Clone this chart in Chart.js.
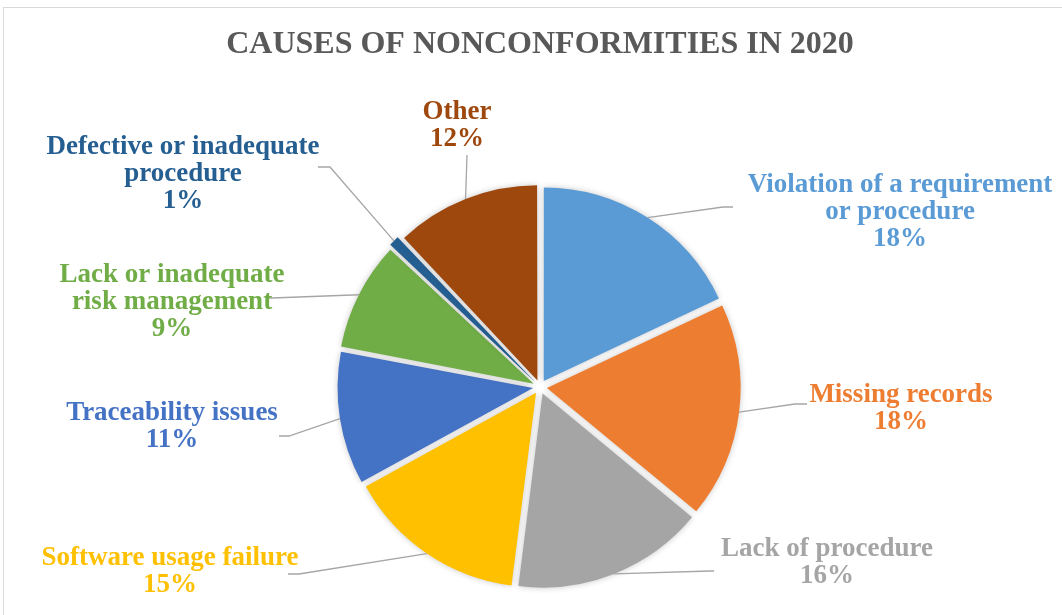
<!DOCTYPE html>
<html>
<head>
<meta charset="utf-8">
<script src="https://cdn.jsdelivr.net/npm/chart.js@4/dist/chart.umd.min.js"></script>
<style>
  html, body { margin: 0; padding: 0; background: #ffffff; }
  #wrap { width: 1062px; height: 615px; position: relative; }
</style>
</head>
<body>
<div id="wrap"><canvas id="pie" width="1062" height="615"></canvas></div>
<script>
// Causes of nonconformities recorded in 2020 (share of total, %)
const categories = [
  ['Violation of a requirement', 'or procedure'],
  ['Missing records'],
  ['Lack of procedure'],
  ['Software usage failure'],
  ['Traceability issues'],
  ['Lack or inadequate', 'risk management'],
  ['Defective or inadequate', 'procedure'],
  ['Other']
];
const shares = [18, 18, 16, 15, 11, 9, 1, 12];
const sliceColors = ['#5B9BD5', '#ED7D31', '#A5A5A5', '#FFC000', '#4472C4', '#70AD47', '#255E91', '#9E480E'];
const chartTitle = 'CAUSES OF NONCONFORMITIES IN 2020';

// Label block centres and leader-line bends, relative to the pie centre
const labelCentres = [[360, -175], [361, 22], [287, 176], [-370, 185], [-368, 40], [-368, -85], [-357, -213], [-83, -261]];
const leaderBends = [
  [[183, -180], [193, -180]],
  [[255, 17], [267, 17]],
  [[170, 184], [174, 184]],
  [[-241, 187], [-252, 187]],
  [[-251, 49], [-261, 49]],
  [[-268, -89], [-273, -89]],
  [[-210, -220], [-222, -220]],
  [[-73, -232], [-73, -232]]
];

const serif = "'Liberation Serif', 'Times New Roman', serif";

const framePlugin = {
  id: 'frame',
  beforeDraw(chart) {
    const ctx = chart.ctx;
    ctx.save();
    ctx.fillStyle = '#ffffff';
    ctx.fillRect(0, 0, chart.width, chart.height);
    ctx.strokeStyle = '#d9d9d9';
    ctx.lineWidth = 1;
    ctx.strokeRect(3.5, 7.5, chart.width + 10, chart.height + 10);
    ctx.restore();
  }
};

const shadowPlugin = {
  id: 'sliceShadow',
  beforeDatasetDraw(chart) {
    const ctx = chart.ctx;
    ctx.save();
    ctx.shadowColor = 'rgba(0,0,0,0.22)';
    ctx.shadowBlur = 6;
    ctx.shadowOffsetX = 0;
    ctx.shadowOffsetY = 0;
  },
  afterDatasetDraw(chart) {
    chart.ctx.restore();
  }
};

const outsideLabels = {
  id: 'outsideLabels',
  afterDatasetsDraw(chart) {
    const ctx = chart.ctx;
    const meta = chart.getDatasetMeta(0);
    const lineH = 27;
    ctx.save();
    meta.data.forEach((arc, i) => {
      const p = arc.getProps(['x', 'y', 'startAngle', 'endAngle', 'outerRadius', 'circumference'], true);
      // ArcElement shifts a slice by offset/4 and grows its radius slightly
      const shift = (arc.options.offset || 0) / 4;
      const grow = shift * (1 - Math.sin(Math.min(Math.PI, p.circumference)));
      const mid = (p.startAngle + p.endAngle) / 2;
      const r = p.outerRadius + shift + grow;
      const sx = p.x + Math.cos(mid) * r;
      const sy = p.y + Math.sin(mid) * r;
      const [b1, b2] = leaderBends[i];
      ctx.beginPath();
      ctx.strokeStyle = '#a6a6a6';
      ctx.lineWidth = 1.3;
      ctx.moveTo(sx, sy);
      ctx.lineTo(p.x + b1[0], p.y + b1[1]);
      ctx.lineTo(p.x + b2[0], p.y + b2[1]);
      ctx.stroke();

      const lines = categories[i].concat([shares[i] + '%']);
      const cx = p.x + labelCentres[i][0];
      const cy = p.y + labelCentres[i][1];
      const top = cy - (lines.length - 1) * lineH / 2;
      ctx.fillStyle = sliceColors[i];
      ctx.font = 'bold 27px ' + serif;
      ctx.textAlign = 'center';
      ctx.textBaseline = 'middle';
      lines.forEach((t, k) => ctx.fillText(t, cx, top + k * lineH));
    });
    ctx.restore();
  }
};

new Chart(document.getElementById('pie'), {
  type: 'pie',
  data: {
    labels: categories,
    datasets: [{
      data: shares,
      backgroundColor: sliceColors,
      borderWidth: 0,
      offset: 28,
      radius: 193
    }]
  },
  options: {
    responsive: false,
    animation: false,
    layout: { padding: { left: 18, right: 0, top: 0, bottom: 13.4 } },
    plugins: {
      legend: { display: false },
      tooltip: { enabled: false },
      title: {
        display: true,
        text: chartTitle,
        color: '#595959',
        font: { family: serif, size: 32, weight: 'bold' },
        padding: { top: 26, bottom: 108 }
      }
    }
  },
  plugins: [framePlugin, shadowPlugin, outsideLabels]
});
</script>
</body>
</html>
